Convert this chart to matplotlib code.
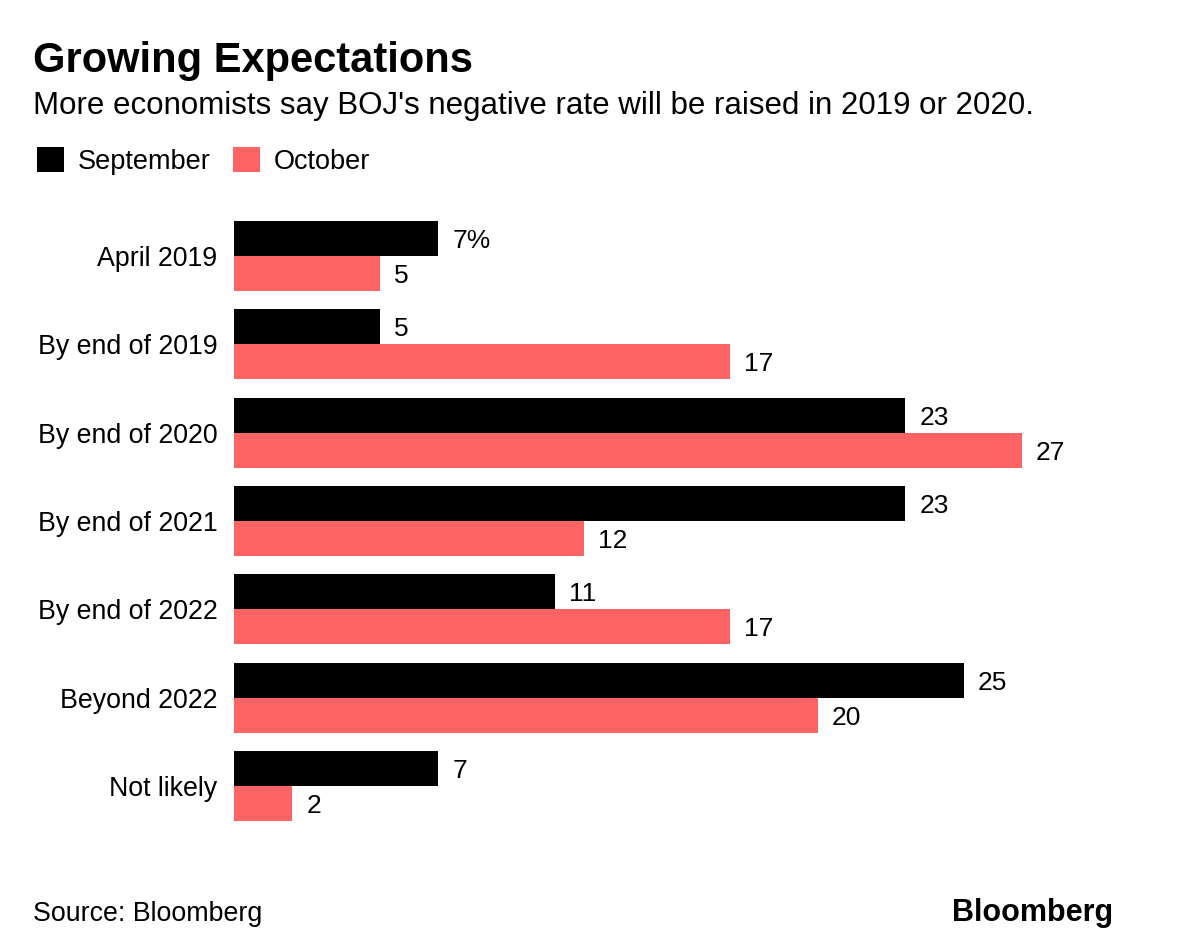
import matplotlib.pyplot as plt
import numpy as np

categories = ["April 2019", "By end of 2019", "By end of 2020", "By end of 2021",
              "By end of 2022", "Beyond 2022", "Not likely"]
september = [7, 5, 23, 23, 11, 25, 7]
october = [5, 17, 27, 12, 17, 20, 2]
series_names = ["September", "October"]

BLACK = "#000000"
RED = "#ff6464"

plt.rcParams["font.family"] = ["Liberation Sans", "DejaVu Sans"]

W, H = 1200, 944
fig = plt.figure(figsize=(W / 100, H / 100), dpi=100)

# axes: x from 234px, 29.19 px per unit; rows 88.33 px apart, first centre at 256px
left_px, right_px = 234, 1100
top_px, bot_px = 200, 840
ax = fig.add_axes([left_px / W, 1 - bot_px / H, (right_px - left_px) / W, (bot_px - top_px) / H])
px_per_unit = (1022 - 234) / 27
ax.set_xlim(0, (right_px - left_px) / px_per_unit)
row = 88.33
ax.set_ylim((bot_px - 256) / row, (top_px - 256) / row)

y = np.arange(len(categories))
h = 35 / row
b1 = ax.barh(y - h / 2, september, height=h, color=BLACK, label=series_names[0])
b2 = ax.barh(y + h / 2, october, height=h, color=RED, label=series_names[1])

off = 14 / px_per_unit
for i, v in enumerate(september):
    ax.text(v + off, y[i] - h / 2 + 0.03, f"{v}%" if i == 0 else f"{v}", va="center", ha="left",
            fontsize=19)
for i, v in enumerate(october):
    ax.text(v + off, y[i] + h / 2 + 0.03, f"{v}", va="center", ha="left", fontsize=19)

ax.set_yticks(y)
ax.set_yticklabels(categories, fontsize=19.3)
ax.tick_params(axis="y", length=0, pad=12)
ax.set_xticks([])
for s in ax.spines.values():
    s.set_visible(False)

fig.text(33 / W, 1 - 72 / H, "Growing Expectations", fontsize=30, fontweight="bold", va="baseline")
fig.text(33 / W, 1 - 114 / H, "More economists say BOJ's negative rate will be raised in 2019 or 2020.",
         fontsize=22.5, va="baseline")

fig.legend(handles=[b1, b2], loc="center left", bbox_to_anchor=(26 / W, 1 - 161 / H), ncol=2,
           frameon=False, fontsize=19.5, handlelength=1.0, handleheight=1.0,
           handletextpad=0.5, columnspacing=0.85, borderaxespad=0)

fig.text(33 / W, 1 - 921 / H, "Source: Bloomberg", fontsize=19.3, va="baseline")
fig.text(1113 / W, 1 - 921 / H, "Bloomberg", fontsize=22, fontweight="bold", va="baseline", ha="right")

fig.savefig("out.png", dpi=100)
